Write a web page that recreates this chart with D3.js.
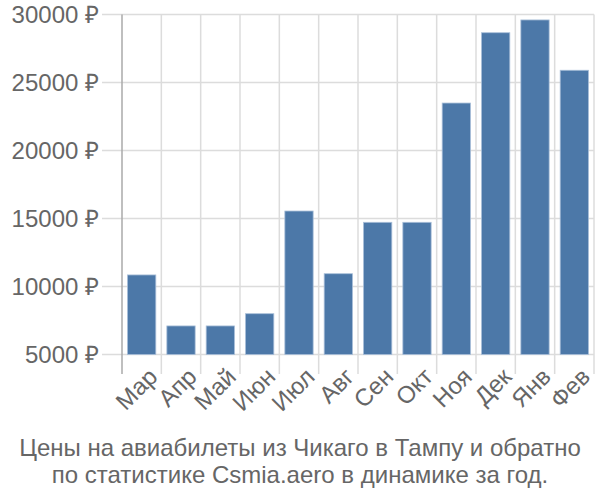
<!DOCTYPE html>
<html><head><meta charset="utf-8">
<script src="https://cdn.jsdelivr.net/npm/d3@7"></script>
<style>body{margin:0;background:#fff}svg{display:block}</style>
</head><body>
<svg id="c" width="600" height="500"></svg>
<script>
const months = ["Мар","Апр","Май","Июн","Июл","Авг","Сен","Окт","Ноя","Дек","Янв","Фев"];
const prices = [10850, 7100, 7100, 8000, 15550, 10940, 14720, 14720, 23490, 28660, 29600, 25900];
const yTicks = [5000, 10000, 15000, 20000, 25000, 30000];
const titleLines = ["Цены на авиабилеты из Чикаго в Тампу и обратно", "по статистике Csmia.aero в динамике за год."];

const svg = d3.select("#c");
const font = "'Liberation Sans', Arial, sans-serif";
const L = 122, R = 594, T = 14.5, B = 354.5;
const x = d3.scaleBand().domain(months).range([L, R]).padding(0);
const y = d3.scaleLinear().domain([5000, 30000]).range([B, T]);
const grid = "#dcdcdc";

svg.append("g").selectAll("line").data(yTicks).join("line")
  .attr("x1", 102).attr("x2", R).attr("y1", d => y(d)).attr("y2", d => y(d))
  .attr("stroke", grid).attr("stroke-width", 1.5);
const bounds = months.map(m => x(m)).concat([R]);
svg.append("g").selectAll("line").data(bounds.slice(1)).join("line")
  .attr("x1", d => d).attr("x2", d => d).attr("y1", T).attr("y2", 374)
  .attr("stroke", grid).attr("stroke-width", 1.5);
svg.append("line").attr("x1", L).attr("x2", L).attr("y1", T).attr("y2", 374)
  .attr("stroke", "#aaaaaa").attr("stroke-width", 1.5);

const bw = 28.3;
svg.append("g").selectAll("rect").data(prices).join("rect")
  .attr("x", (d, i) => x(months[i]) + (x.bandwidth() - bw) / 2)
  .attr("width", bw)
  .attr("y", d => y(d))
  .attr("height", d => B - y(d))
  .attr("fill", "#4c78a8")
  .attr("stroke", "#a9bfd9").attr("stroke-width", 0.8);

svg.append("g").selectAll("text").data(yTicks).join("text")
  .attr("x", 99).attr("y", d => y(d)).attr("dy", "0.35em")
  .attr("text-anchor", "end").attr("fill", "#666").attr("font-family", font)
  .attr("font-size", 24).text(d => d + " ₽");

svg.append("g").selectAll("text").data(months).join("text")
  .attr("transform", d => `translate(${x(d) + x.bandwidth() / 2 + 5},${366}) rotate(-45)`)
  .attr("text-anchor", "end").attr("dy", "0.72em").attr("fill", "#666").attr("font-family", font)
  .attr("font-size", 24).text(d => d);

svg.append("g").selectAll("text").data(titleLines).join("text")
  .attr("x", 300).attr("y", (d, i) => 456 + i * 27)
  .attr("text-anchor", "middle").attr("fill", "#666").attr("font-family", font)
  .attr("font-size", 24).text(d => d);
</script>
</body></html>
